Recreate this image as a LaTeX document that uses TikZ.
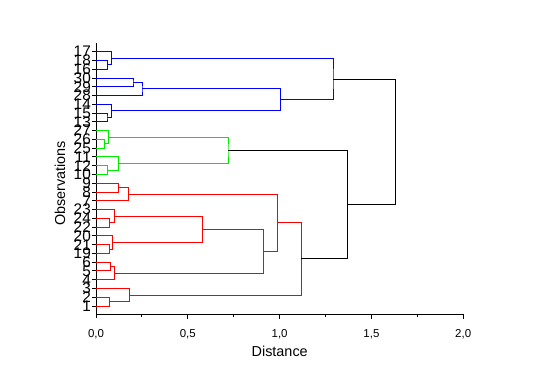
\documentclass[tikz,border=0pt]{standalone}
\usepackage{fontspec}
\setmainfont{Liberation Sans}
\usetikzlibrary{calc}
\definecolor{cblue}{RGB}{0,0,255}
\definecolor{cgreen}{RGB}{0,235,0}
\definecolor{cred}{RGB}{255,0,0}
\newcommand\mrg[5]{%
  \path let \p1=(#3), \p2=(#4) in coordinate (#1) at ({#2*0.75pt},{0.5*\y1+0.5*\y2});
  \draw[#5] (#3) -| (#1) |- (#4);
}
\begin{document}
\begin{tikzpicture}[x=0.75pt,y=-0.75pt,line width=0.75pt,
  obs/.style={anchor=east,inner sep=0pt,font=\fontsize{11.5}{12}\selectfont},
  ticklab/.style={anchor=base,inner sep=0pt,font=\fontsize{8.6}{10}\selectfont},
  axtitle/.style={anchor=base,inner sep=0pt,font=\fontsize{10.8}{12}\selectfont},
  bl/.style={cblue},gr/.style={cgreen},rd/.style={cred},bk/.style={black}]
\useasboundingbox (0,0) rectangle (541,380);
% axes
\coordinate (ytop) at (96,42.7);
\coordinate (ybot) at (96,317.5);
\coordinate (xl) at (96,314.3);
\coordinate (xr) at (463.2,314.3);
\draw (ytop) -- (ybot);
\draw (xl) -- (xr);
\foreach \k in {1,...,8}{
  \pgfmathsetmacro\tl{mod(\k,2)==0 ? 5 : 3}
  \draw (96+45.9*\k,314.3) -- ++(0,\tl);
}
\foreach \v/\lab in {0/{0,0},1/{0,5},2/{1,0},3/{1,5},4/{2,0}}{
  \node[ticklab] (tk\v) at (96+91.8*\v,337.3) {\lab};
}
\node[axtitle] (xt) at (279.7,356) {Distance};
\node[axtitle,rotate=90] (yt) at (65,183.2) {Observations};
% leaves
\foreach \n [count=\i from 0] in {17,18,16,30,29,28,14,15,13,27,26,25,11,12,10,9,8,7,23,24,22,20,21,19,6,5,4,3,2,1}{
  \coordinate (l\n) at (96,{51.7+8.77*\i});
  \node[obs] (t\n) at (91.3,{51.7+8.77*\i}) {\n};
  \draw (l\n) -- ++(-4,0);
}
% blue
\mrg{a1}{107.7}{l18}{l16}{bl}
\mrg{a2}{111.3}{l17}{a1}{bl}
\mrg{b1}{133}{l30}{l29}{bl}
\mrg{b2}{142}{b1}{l28}{bl}
\mrg{c1}{107}{l15}{l13}{bl}
\mrg{c2}{111.3}{l14}{c1}{bl}
\mrg{bc}{280.3}{b2}{c2}{bl}
\mrg{abc}{333}{a2}{bc}{bl}
% green
\mrg{g1}{104.3}{l26}{l25}{gr}
\mrg{g2}{108.7}{l27}{g1}{gr}
\mrg{g3}{107.7}{l12}{l10}{gr}
\mrg{g4}{118.7}{l11}{g3}{gr}
\mrg{g}{228}{g2}{g4}{gr}
% red
\mrg{r1}{118.7}{l9}{l8}{rd}
\mrg{r2}{128.7}{r1}{l7}{rd}
\mrg{r3}{109.3}{l24}{l22}{rd}
\mrg{r4}{114.3}{l23}{r3}{rd}
\mrg{r5}{109.3}{l21}{l19}{rd}
\mrg{r6}{112.3}{l20}{r5}{rd}
\mrg{r7}{202.3}{r4}{r6}{rd}
\mrg{r8}{110.3}{l6}{l5}{rd}
\mrg{r9}{114.7}{r8}{l4}{rd}
\mrg{r10}{263.3}{r7}{r9}{rd}
\mrg{r11}{277.3}{r2}{r10}{rd}
\mrg{r12}{109.3}{l2}{l1}{rd}
\mrg{r13}{129.3}{l3}{r12}{rd}
\mrg{r14}{301.3}{r11}{r13}{rd}
% black
\mrg{k1}{347.3}{g}{r14}{bk}
\mrg{root}{395.3}{abc}{k1}{bk}
\end{tikzpicture}
\end{document}
